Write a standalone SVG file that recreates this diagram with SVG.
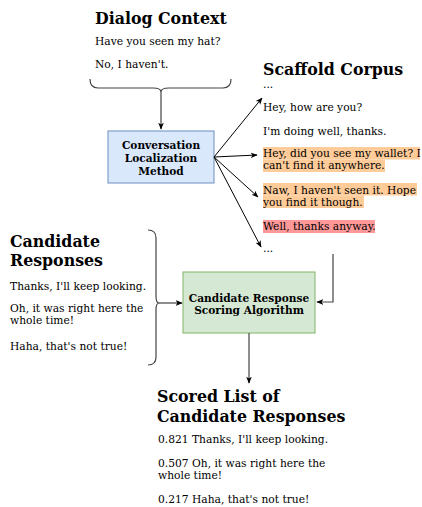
<svg xmlns="http://www.w3.org/2000/svg" width="422" height="507" viewBox="0 0 422 507">
<style>
text{font-family:"DejaVu Serif",serif;fill:#000}
.t{font-size:15.8px;font-weight:bold}
.b{font-size:10.7px}
.n{font-size:10.6px;font-weight:bold;text-anchor:middle}
.c{fill:none;stroke:#000;stroke-width:1}
.g{fill:none;stroke:#444;stroke-width:1.2}
</style>
<defs>
<marker id="ah" viewBox="0 0 10 10" refX="9" refY="5" markerWidth="7" markerHeight="7" orient="auto" markerUnits="userSpaceOnUse">
<path d="M0,1 L10,5 L0,9 L2.5,5 Z" fill="#000"/>
</marker>
</defs>
<rect width="422" height="507" fill="#fff"/>
<g id="dialog-context">
<text class="t" x="95" y="24">Dialog Context</text>
<text class="b" x="95" y="45">Have you seen my hat?</text>
<text class="b" x="95" y="68">No, I haven't.</text>
</g>
<g id="scaffold-corpus">
<text class="t" x="263" y="75">Scaffold Corpus</text>
<rect x="263" y="147" width="157" height="12.5" fill="#ffcc99"/>
<rect x="263" y="159.5" width="122" height="12.5" fill="#ffcc99"/>
<rect x="263" y="183" width="154" height="12.5" fill="#ffcc99"/>
<rect x="263" y="195.5" width="101" height="12.5" fill="#ffcc99"/>
<rect x="263" y="220" width="112" height="13" fill="#ff9999"/>
<text class="b" x="263" y="88">...</text>
<text class="b" x="263" y="111">Hey, how are you?</text>
<text class="b" x="263" y="135">I'm doing well, thanks.</text>
<text class="b" x="263" y="157">Hey, did you see my wallet? I</text>
<text class="b" x="263" y="169">can't find it anywhere.</text>
<text class="b" x="263" y="194">Naw, I haven't seen it. Hope</text>
<text class="b" x="263" y="206">you find it though.</text>
<text class="b" x="263" y="230">Well, thanks anyway.</text>
<text class="b" x="263" y="252">...</text>
</g>
<g id="conversation-localization">
<rect x="108" y="131" width="106" height="52" fill="#dae8fc" stroke="#6c8ebf"/>
<text class="n" x="161" y="149">Conversation</text>
<text class="n" x="161" y="162">Localization</text>
<text class="n" x="161" y="175">Method</text>
</g>
<g id="candidate-responses">
<text class="t" x="10" y="247">Candidate</text>
<text class="t" x="10" y="266">Responses</text>
<text class="b" x="10" y="290">Thanks, I'll keep looking.</text>
<text class="b" x="10" y="312">Oh, it was right here the</text>
<text class="b" x="10" y="324">whole time!</text>
<text class="b" x="10" y="350">Haha, that's not true!</text>
</g>
<g id="scoring-algorithm">
<rect x="183" y="272" width="132" height="61" fill="#d5e8d4" stroke="#82b366"/>
<text class="n" x="249" y="302">Candidate Response</text>
<text class="n" x="249" y="314">Scoring Algorithm</text>
</g>
<g id="scored-list">
<text class="t" x="157" y="402">Scored List of</text>
<text class="t" x="157" y="422">Candidate Responses</text>
<text class="b" x="158" y="443">0.821 Thanks, I'll keep looking.</text>
<text class="b" x="158" y="467">0.507 Oh, it was right here the</text>
<text class="b" x="158" y="479">whole time!</text>
<text class="b" x="158" y="503">0.217 Haha, that's not true!</text>
</g>
<g id="connectors">
<path class="g" d="M90,79 Q90,88 98,88 L153,88 Q161,88 161,92 Q161,88 169,88 L223,88 Q231,88 231,79"/>
<path class="g" d="M161,92 L161,129" marker-end="url(#ah)"/>
<path class="c" d="M214,157 L262,98" marker-end="url(#ah)"/>
<path class="c" d="M214,157 L257,155" marker-end="url(#ah)"/>
<path class="c" d="M214,157 L258,197" marker-end="url(#ah)"/>
<path class="c" d="M214,157 L261,247" marker-end="url(#ah)"/>
<path class="g" d="M148,230 Q156,230 156,238 L156,296 Q156,303 159,303 Q156,303 156,310 L156,357 Q156,365 148,365"/>
<path class="g" d="M159,303 L182,303" marker-end="url(#ah)"/>
<path class="g" d="M333,254 L333,302 L317,302" marker-end="url(#ah)"/>
<path class="g" d="M249,333 L249,383" marker-end="url(#ah)"/>
</g>
</svg>
